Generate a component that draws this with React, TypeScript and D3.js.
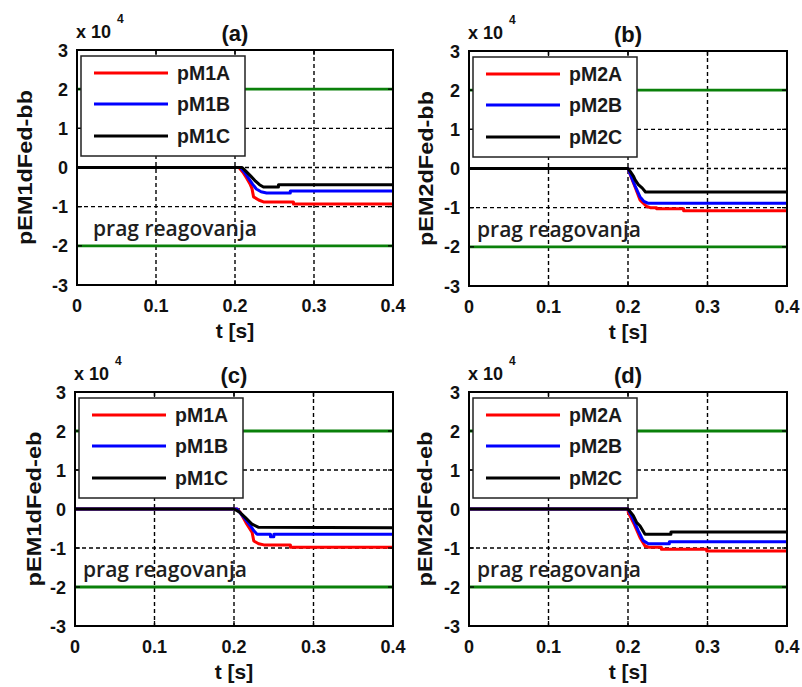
import React from "react";
import * as d3 from "d3";

// ---- data (values in units of 10^4) ----
const xTicks = [0, 0.1, 0.2, 0.3, 0.4];
const yTicks = [-3, -2, -1, 0, 1, 2, 3];
const gridX = [0.1, 0.2, 0.3];
const gridY = [-2, -1, 0, 1, 2];
const thresholds = [2, -2];
const thresholdLabel = "prag reagovanja";

type Pt = [number, number];

// panel (a) pEM1dFed-bb
const a_pM1A: Pt[] = [[0, 0], [0.205, 0], [0.21, -0.12], [0.215, -0.28], [0.219, -0.42], [0.2215, -0.54], [0.2235, -0.75], [0.23, -0.83], [0.236, -0.88], [0.274, -0.88], [0.274, -0.93], [0.4, -0.93]];
const a_pM1B: Pt[] = [[0, 0], [0.207, 0], [0.212, -0.12], [0.217, -0.27], [0.222, -0.42], [0.227, -0.55], [0.233, -0.62], [0.24, -0.65], [0.27, -0.65], [0.27, -0.6], [0.4, -0.6]];
const a_pM1C: Pt[] = [[0, 0], [0.209, 0], [0.214, -0.1], [0.22, -0.22], [0.226, -0.35], [0.231, -0.44], [0.236, -0.5], [0.255, -0.5], [0.255, -0.44], [0.4, -0.44]];

// panel (b) pEM2dFed-bb
const b_pM2A: Pt[] = [[0, 0], [0.2, 0], [0.204, -0.22], [0.209, -0.48], [0.215, -0.8], [0.2235, -0.97], [0.228, -1.0], [0.236, -1.0], [0.236, -1.03], [0.27, -1.03], [0.27, -1.08], [0.4, -1.08]];
const b_pM2B: Pt[] = [[0, 0], [0.2, 0], [0.204, -0.2], [0.209, -0.45], [0.215, -0.72], [0.22, -0.84], [0.2256, -0.89], [0.4, -0.89]];
const b_pM2C: Pt[] = [[0, 0], [0.2, 0], [0.203, -0.08], [0.207, -0.2], [0.209, -0.29], [0.213, -0.41], [0.218, -0.5], [0.222, -0.6], [0.4, -0.6]];

// panel (c) pEM1dFed-eb
const c_pM1A: Pt[] = [[0, 0], [0.204, 0], [0.208, -0.09], [0.215, -0.35], [0.2228, -0.6], [0.2249, -0.82], [0.231, -0.89], [0.2375, -0.92], [0.271, -0.92], [0.271, -0.98], [0.4, -0.98]];
const c_pM1B: Pt[] = [[0, 0], [0.204, 0], [0.206, -0.06], [0.214, -0.25], [0.2207, -0.43], [0.225, -0.56], [0.229, -0.65], [0.2459, -0.65], [0.2459, -0.71], [0.2501, -0.71], [0.2501, -0.65], [0.4, -0.65]];
const c_pM1C: Pt[] = [[0, 0], [0.2, 0], [0.207, -0.08], [0.2144, -0.22], [0.2228, -0.39], [0.231, -0.47], [0.4, -0.48]];

// panel (d) pEM2dFed-eb
const d_pM2A: Pt[] = [[0, 0], [0.2, 0], [0.2004, -0.09], [0.208, -0.4], [0.215, -0.73], [0.2214, -0.95], [0.226, -0.98], [0.242, -0.98], [0.242, -1.03], [0.299, -1.03], [0.299, -1.08], [0.4, -1.08]];
const d_pM2B: Pt[] = [[0, 0], [0.2, 0], [0.205, -0.2], [0.213, -0.56], [0.219, -0.81], [0.2256, -0.89], [0.252, -0.89], [0.252, -0.84], [0.4, -0.84]];
const d_pM2C: Pt[] = [[0, 0], [0.2, 0], [0.2067, -0.17], [0.211, -0.35], [0.215, -0.43], [0.2214, -0.65], [0.254, -0.65], [0.254, -0.59], [0.4, -0.59]];

const seriesColors = ["#ff0000", "#0000ff", "#000000"];

interface PanelCfg {
  title: string;
  yLabel: string;
  names: string[];
  series: Pt[][];
  x0: number; y0: number; w: number; h: number;
  yLabelX: number;
  pragDx: number;
}

const panels: PanelCfg[] = [
  { title: "(a)", yLabel: "pEM1dFed-bb", names: ["pM1A", "pM1B", "pM1C"], series: [a_pM1A, a_pM1B, a_pM1C], x0: 77, y0: 50, w: 316, h: 235, yLabelX: 32, pragDx: 16 },
  { title: "(b)", yLabel: "pEM2dFed-bb", names: ["pM2A", "pM2B", "pM2C"], series: [b_pM2A, b_pM2B, b_pM2C], x0: 469, y0: 51, w: 318, h: 235, yLabelX: 433, pragDx: 8 },
  { title: "(c)", yLabel: "pEM1dFed-eb", names: ["pM1A", "pM1B", "pM1C"], series: [c_pM1A, c_pM1B, c_pM1C], x0: 75, y0: 392, w: 318, h: 234, yLabelX: 41, pragDx: 8 },
  { title: "(d)", yLabel: "pEM2dFed-eb", names: ["pM2A", "pM2B", "pM2C"], series: [d_pM2A, d_pM2B, d_pM2C], x0: 469, y0: 392, w: 318, h: 234, yLabelX: 432, pragDx: 8 },
];

const AX_FONT = "'Liberation Sans', Arial, sans-serif";
const PRAG_FONT = "'Open Sans', sans-serif";

function Panel({ p }: { p: PanelCfg }) {
  const x = d3.scaleLinear().domain([0, 0.4]).range([p.x0, p.x0 + p.w]);
  const y = d3.scaleLinear().domain([-3, 3]).range([p.y0 + p.h, p.y0]);
  const line = d3.line<Pt>().x((d) => x(d[0])).y((d) => y(d[1]));
  const fmtX = (v: number) => (v === 0 ? "0" : d3.format(".1f")(v));
  const lg = { x: p.x0 + 4, y: p.y0 + 6, w: 164, h: 100 };
  const rowsY = [17, 48, 80];
  const tickLen = 5;
  return (
    <g>
      <rect x={p.x0} y={p.y0} width={p.w} height={p.h} fill="#fff" />
      {gridX.map((v) => (
        <line key={"gx" + v} x1={x(v)} x2={x(v)} y1={p.y0} y2={p.y0 + p.h} stroke="#000" strokeWidth={1.4} strokeDasharray="4,3" />
      ))}
      {gridY.map((v) => (
        <line key={"gy" + v} x1={p.x0} x2={p.x0 + p.w} y1={y(v)} y2={y(v)} stroke="#000" strokeWidth={1.4} strokeDasharray="4,3" />
      ))}
      {thresholds.map((v) => (
        <line key={"th" + v} x1={p.x0} x2={p.x0 + p.w} y1={y(v)} y2={y(v)} stroke="#0a800a" strokeWidth={2.8} />
      ))}
      {p.series.map((s, i) => (
        <path key={"s" + i} d={line(s) || ""} fill="none" stroke={seriesColors[i]} strokeWidth={3} strokeLinejoin="round" />
      ))}
      {/* tick marks */}
      {xTicks.map((v) => (
        <g key={"xt" + v}>
          <line x1={x(v)} x2={x(v)} y1={p.y0 + p.h} y2={p.y0 + p.h - tickLen} stroke="#000" strokeWidth={1.3} />
          <line x1={x(v)} x2={x(v)} y1={p.y0} y2={p.y0 + tickLen} stroke="#000" strokeWidth={1.3} />
        </g>
      ))}
      {yTicks.map((v) => (
        <g key={"yt" + v}>
          <line x1={p.x0} x2={p.x0 + tickLen} y1={y(v)} y2={y(v)} stroke="#000" strokeWidth={1.3} />
          <line x1={p.x0 + p.w} x2={p.x0 + p.w - tickLen} y1={y(v)} y2={y(v)} stroke="#000" strokeWidth={1.3} />
        </g>
      ))}
      <rect x={p.x0} y={p.y0} width={p.w} height={p.h} fill="none" stroke="#000" strokeWidth={2} />
      {/* legend */}
      <rect x={lg.x} y={lg.y} width={lg.w} height={lg.h} fill="#fff" stroke="#222" strokeWidth={1.5} />
      {p.names.map((n, i) => (
        <g key={"lg" + n}>
          <line x1={lg.x + 13} x2={lg.x + 87} y1={lg.y + rowsY[i]} y2={lg.y + rowsY[i]} stroke={seriesColors[i]} strokeWidth={3} />
          <text x={lg.x + 96} y={lg.y + rowsY[i] + 7} fontFamily={AX_FONT} fontWeight="bold" fontSize={19.5} fill="#1a1a1a">{n}</text>
        </g>
      ))}
      <text x={p.x0 + p.pragDx} y={y(-2) - 10} fontFamily={PRAG_FONT} fontWeight={600} fontSize={21} fill="#1e1e1e">{thresholdLabel}</text>
      {/* tick labels */}
      {xTicks.map((v) => (
        <text key={"xl" + v} x={x(v)} y={p.y0 + p.h + 27} textAnchor="middle" fontFamily={AX_FONT} fontWeight="bold" fontSize={18} fill="#111">{fmtX(v)}</text>
      ))}
      {yTicks.map((v) => (
        <text key={"yl" + v} x={p.x0 - 9} y={y(v) + 6.5} textAnchor="end" fontFamily={AX_FONT} fontWeight="bold" fontSize={18} fill="#111">{String(v)}</text>
      ))}
      {/* exponent */}
      <text x={p.x0 - 1} y={p.y0 - 12} fontFamily={AX_FONT} fontWeight="bold" fontSize={18} fill="#111">x 10</text>
      <text x={p.x0 + 40} y={p.y0 - 27} fontFamily={AX_FONT} fontWeight="bold" fontSize={12} fill="#111">4</text>
      {/* title */}
      <text x={p.x0 + p.w / 2} y={p.y0 - 9} textAnchor="middle" fontFamily={AX_FONT} fontWeight="bold" fontSize={22} fill="#111">{p.title}</text>
      {/* axis labels */}
      <text x={p.x0 + p.w / 2} y={p.y0 + p.h + 53} textAnchor="middle" fontFamily={AX_FONT} fontWeight="bold" fontSize={21} fill="#111">t [s]</text>
      <text transform={`translate(${p.yLabelX},${p.y0 + p.h / 2}) rotate(-90)`} textAnchor="middle" fontFamily={AX_FONT} fontWeight="bold" fontSize={20} fill="#111" textLength={155} lengthAdjust="spacingAndGlyphs">{p.yLabel}</text>
    </g>
  );
}

export default function App() {
  return (
    <svg width={802} height={687} style={{ position: "absolute", left: 0, top: 0, background: "#fff" }}>
      <rect x={0} y={0} width={802} height={687} fill="#fff" />
      {panels.map((p) => (
        <Panel key={p.title} p={p} />
      ))}
    </svg>
  );
}
